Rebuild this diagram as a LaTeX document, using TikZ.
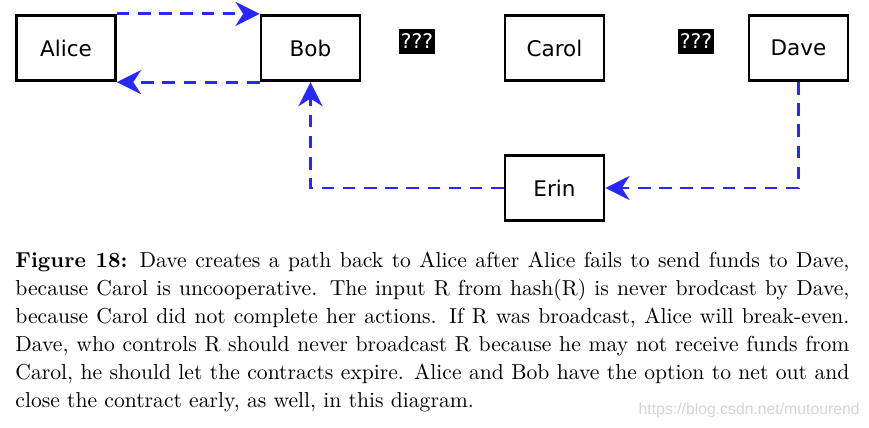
\documentclass[tikz,border=0pt]{standalone}
\usepackage{fontspec}
\usepackage{xcolor}
\usepackage{tikz}
\usetikzlibrary{shapes, arrows.meta, positioning}
\newfontfamily\boxfont{DejaVu Sans}
\newfontfamily\markfont{Liberation Sans}
\definecolor{pathblue}{RGB}{40,40,250}

\begin{document}
\begin{tikzpicture}[
    x=0.52pt, y=-0.52pt,
    party/.style={rectangle, draw, line width=1.5pt, minimum width=51.5pt, minimum height=34pt, text centered, font=\boxfont\fontsize{11.2}{13}\selectfont},
    unknown/.style={rectangle, fill=black, text=white, inner sep=1pt, minimum height=13pt, font=\boxfont\fontsize{10.5}{12}\selectfont},
    arrow/.style={-{Stealth[length=12.5pt, width=12.5pt, inset=4pt]}, line width=1.5pt, pathblue, dash pattern=on 6.5pt off 4.5pt}
]
    \useasboundingbox (0,0) rectangle (869,428);

    % Party nodes
    \node[party] (alice) at (66,48) {Alice};
    \node[party] (bob) at (310.5,48) {Bob};
    \node[party] (carol) at (554.5,48) {Carol};
    \node[party] (dave) at (798.5,48) {Dave};
    \node[party] (erin) at (554.5,188) {Erin};

    % Unknown links
    \node[unknown] (unknownbc) at (417,41.5) {???};
    \node[unknown] (unknowncd) at (696,41.5) {???};

    % Arrows
    \draw[arrow] (alice.north east) -- (bob.north west);
    \draw[arrow] (bob.south west) -- (alice.south east);
    \draw[arrow] (dave.south) |- (erin.east);
    \draw[arrow] (erin.west) -| (bob.south);

    % Caption
    \node[anchor=north west, inner sep=0pt, scale=1.125, transform shape, text width=385.5pt, align=justify, font=\fontsize{10}{12.9}\selectfont] (caption) at (15,252) {%
        \textbf{Figure 18:} Dave creates a path back to Alice after Alice fails to send funds to Dave,\linebreak
        because Carol is uncooperative. The input R from hash(R) is never brodcast by Dave,\linebreak
        because Carol did not complete her actions. If R was broadcast, Alice will break-even.\linebreak
        Dave, who controls R should never broadcast R because he may not receive funds from\linebreak
        Carol, he should let the contracts expire. Alice and Bob have the option to net out and\linebreak
        close the contract early, as well, in this diagram.};

    % Watermark
    \node[anchor=east, inner sep=0pt, text=black!17, font=\markfont\fontsize{8.2}{10}\selectfont] (mark) at (860,410) {https://blog.csdn.net/mutourend};
\end{tikzpicture}
\end{document}
